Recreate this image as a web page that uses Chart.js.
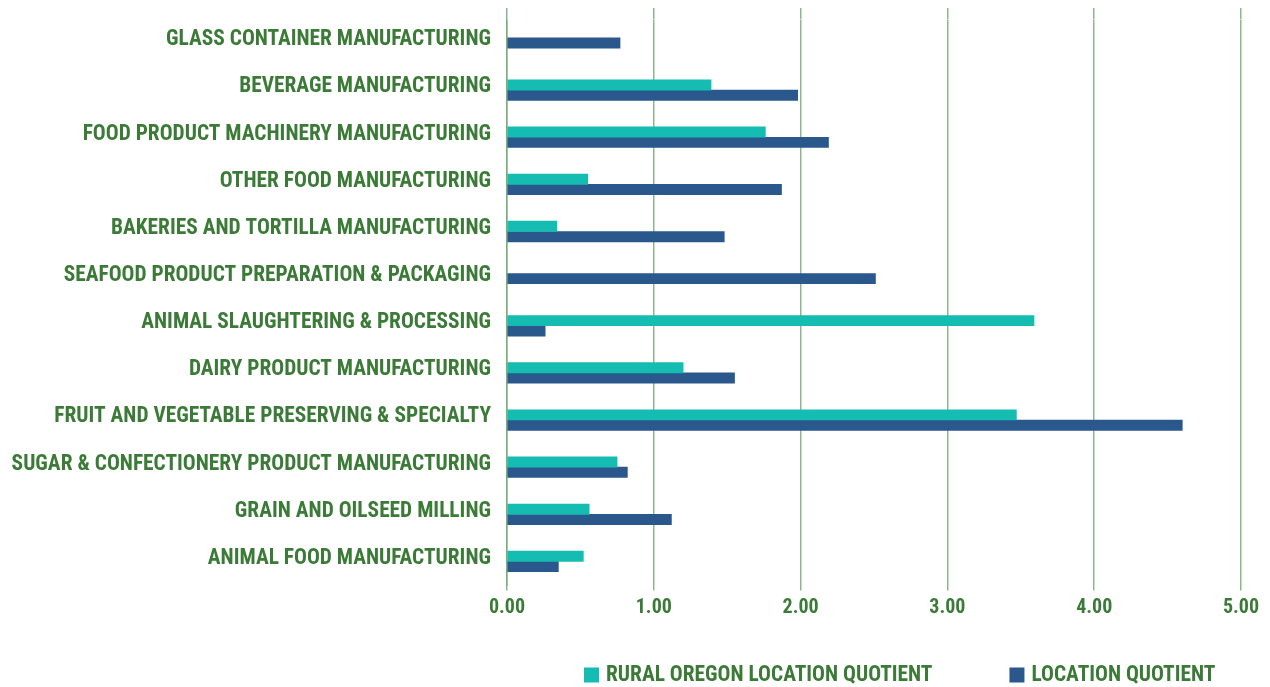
<!DOCTYPE html>
<html>
<head>
<meta charset="utf-8">
<script src="https://cdn.jsdelivr.net/npm/chart.js@4/dist/chart.umd.min.js"></script>
<style>
    html, body { margin: 0; padding: 0; background: #ffffff; }
    #wrap { width: 1270px; height: 687px; position: relative; }
</style>
</head>
<body>
<div id="wrap"><canvas id="lq_graph"></canvas></div>
<script>
// industries, top to bottom
const industries = [
    "GLASS CONTAINER MANUFACTURING",
    "BEVERAGE MANUFACTURING",
    "FOOD PRODUCT MACHINERY MANUFACTURING",
    "OTHER FOOD MANUFACTURING",
    "BAKERIES AND TORTILLA MANUFACTURING",
    "SEAFOOD PRODUCT PREPARATION & PACKAGING",
    "ANIMAL SLAUGHTERING & PROCESSING",
    "DAIRY PRODUCT MANUFACTURING",
    "FRUIT AND VEGETABLE PRESERVING & SPECIALTY",
    "SUGAR & CONFECTIONERY PRODUCT MANUFACTURING",
    "GRAIN AND OILSEED MILLING",
    "ANIMAL FOOD MANUFACTURING"
];

const series_names = ["RURAL OREGON LOCATION QUOTIENT", "LOCATION QUOTIENT"];

// rural oregon LQ (no bar for glass containers / seafood)
const rural_lq = [null, 1.39, 1.76, 0.55, 0.34, null, 3.59, 1.20, 3.47, 0.75, 0.56, 0.52];
const state_lq = [0.77, 1.98, 2.19, 1.87, 1.48, 2.51, 0.26, 1.55, 4.60, 0.82, 1.12, 0.35];

const x_ticks = [0, 1, 2, 3, 4, 5];

const GREEN = "#3b7a37";
const GRID  = "rgba(120,170,120,0.85)";
const FONT  = "'Roboto Condensed', 'DejaVu Sans Condensed', sans-serif";

// legend drawn under the axis, items spaced wide apart
const wideLegend = {
    id: "wideLegend",
    afterDraw(chart) {
        const ctx = chart.ctx;
        let x = 584;
        const y = 675;
        ctx.save();
        ctx.font = "bold 21.4px " + FONT;
        ctx.textBaseline = "middle";
        ctx.textAlign = "left";
        chart.data.datasets.forEach(function (ds) {
            ctx.fillStyle = ds.backgroundColor;
            ctx.fillRect(x, y - 7.5, 15, 15);
            ctx.fillStyle = GREEN;
            ctx.fillText(ds.label, x + 22, y + 1);
            x += 22 + ctx.measureText(ds.label).width + 77;
        });
        ctx.restore();
    }
};

const ctx = document.getElementById("lq_graph").getContext("2d");
const myChart = new Chart(ctx, {
    type: "bar",
    data: {
        labels: industries,
        datasets: [
            {
                label: series_names[0],
                data: rural_lq,
                backgroundColor: "#15bcb1"
            },
            {
                label: series_names[1],
                data: state_lq,
                backgroundColor: "#2a578c"
            }
        ]
    },
    options: {
        indexAxis: "y",
        responsive: true,
        maintainAspectRatio: false,
        animation: false,
        layout: { padding: { top: 0, right: 29, bottom: 0, left: 0 } },
        datasets: {
            // a lone bar sits in the middle of its row
            bar: { barThickness: 10.3, categoryPercentage: 0.584, skipNull: true }
        },
        plugins: {
            legend: { display: false },
            tooltip: { enabled: false }
        },
        scales: {
            x: {
                position: "bottom",
                min: 0,
                max: 5,
                afterBuildTicks: function (scale) {
                    scale.ticks = x_ticks.map(v => ({ value: v }));
                },
                afterFit: function (scale) {
                    scale.height = 102;
                    scale.paddingLeft = 0;
                    scale.paddingRight = 0;
                },
                grid: { color: GRID, lineWidth: 1.5, tickLength: 5.6 },
                border: { display: false },
                ticks: {
                    padding: 5,
                    color: GREEN,
                    font: { family: FONT, size: 20, weight: "bold" },
                    callback: v => Number(v).toFixed(2)
                }
            },
            // top axis only carries the short tick stubs above the plot
            x2: {
                position: "top",
                min: 0,
                max: 5,
                afterBuildTicks: function (scale) {
                    scale.ticks = x_ticks.map(v => ({ value: v }));
                },
                afterFit: function (scale) { scale.height = 19.4; },
                grid: { color: GRID, lineWidth: 1.5, tickLength: 11.4, drawOnChartArea: false },
                border: { display: false },
                ticks: { display: false }
            },
            y: {
                // fixed label column, no extra room for half labels above/below
                afterFit: function (scale) {
                    scale.width = 507;
                    scale.paddingTop = 0;
                    scale.paddingBottom = 0;
                },
                grid: { display: false, drawTicks: false },
                border: { display: true, color: GRID, width: 1.5 },
                ticks: {
                    padding: 16,
                    labelOffset: -3,
                    color: GREEN,
                    font: { family: FONT, size: 21.4, weight: "bold" }
                }
            }
        }
    },
    plugins: [wideLegend]
});
</script>
</body>
</html>
